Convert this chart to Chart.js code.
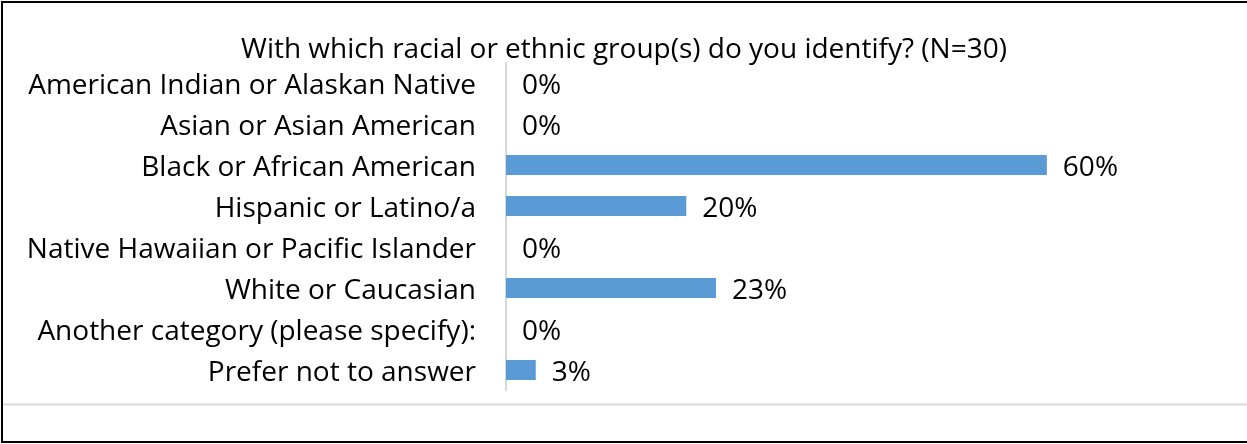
<!DOCTYPE html>
<html>
<head>
<meta charset="utf-8">
<script src="https://cdn.jsdelivr.net/npm/chart.js@4"></script>
<style>
  html, body { margin: 0; padding: 0; background: #fff; }
  #wrap { width: 1247px; height: 444px; }
</style>
</head>
<body>
<div id="wrap"><canvas id="raceChart" width="1247" height="444"></canvas></div>
<script>
var titleText = 'With which racial or ethnic group(s) do you identify? (N=30)';
var categories = [
    'American Indian or Alaskan Native',
    'Asian or Asian American',
    'Black or African American',
    'Hispanic or Latino/a',
    'Native Hawaiian or Pacific Islander',
    'White or Caucasian',
    'Another category (please specify):',
    'Prefer not to answer'
];
// percent of respondents (N=30)
var percents = [0, 0, 60, 20, 0, 23.3, 0, 3.3];

var FONT = '"Open Sans", Lato, sans-serif';
var FONT_SIZE = 28;

// frame lines, title and value labels
var decorPlugin = {
    id: 'decor',
    afterDatasetsDraw: function (chart) {
        var ctx = chart.ctx;
        var meta = chart.getDatasetMeta(0);
        ctx.save();
        ctx.font = FONT_SIZE + 'px ' + FONT;
        ctx.fillStyle = '#000';
        ctx.textAlign = 'left';
        ctx.textBaseline = 'middle';
        meta.data.forEach(function (bar, i) {
            ctx.fillText(Math.round(percents[i]) + '%', bar.x + 16, bar.y + 3);
        });
        ctx.restore();
    },
    afterDraw: function (chart) {
        var ctx = chart.ctx;
        ctx.save();
        ctx.font = FONT_SIZE + 'px ' + FONT;
        ctx.fillStyle = '#000';
        ctx.textAlign = 'center';
        ctx.textBaseline = 'middle';
        ctx.fillText(titleText, 624, 50);

        ctx.strokeStyle = '#d9d9d9';
        ctx.lineWidth = 2;
        ctx.beginPath();
        ctx.moveTo(2, 404.5);
        ctx.lineTo(1247, 404.5);
        ctx.stroke();

        ctx.strokeStyle = '#000';
        ctx.lineWidth = 2;
        ctx.beginPath();
        ctx.moveTo(1247, 2);
        ctx.lineTo(2, 2);
        ctx.lineTo(2, 442);
        ctx.lineTo(1247, 442);
        ctx.stroke();
        ctx.restore();
    }
};

var ctx = document.getElementById('raceChart').getContext('2d');
var raceChart = new Chart(ctx, {
    type: 'bar',
    data: {
        labels: categories,
        datasets: [{
            data: percents,
            backgroundColor: '#5b9bd5',
            borderWidth: 0,
            categoryPercentage: 1,
            barPercentage: 0.49
        }]
    },
    options: {
        indexAxis: 'y',
        responsive: false,
        animation: false,
        layout: {
            padding: { left: 0, right: 110, top: 62.5, bottom: 53.5 }
        },
        plugins: {
            legend: { display: false },
            tooltip: { enabled: false }
        },
        scales: {
            x: {
                display: false,
                min: 0,
                max: 70
            },
            y: {
                grid: { display: false, drawTicks: false },
                border: { display: true, color: '#d9d9d9', width: 2 },
                ticks: {
                    color: '#000',
                    padding: 30,
                    labelOffset: 3,
                    font: { family: FONT, size: FONT_SIZE }
                },
                afterFit: function (scale) {
                    scale.width = 506;
                }
            }
        }
    },
    plugins: [decorPlugin]
});
</script>
</body>
</html>
